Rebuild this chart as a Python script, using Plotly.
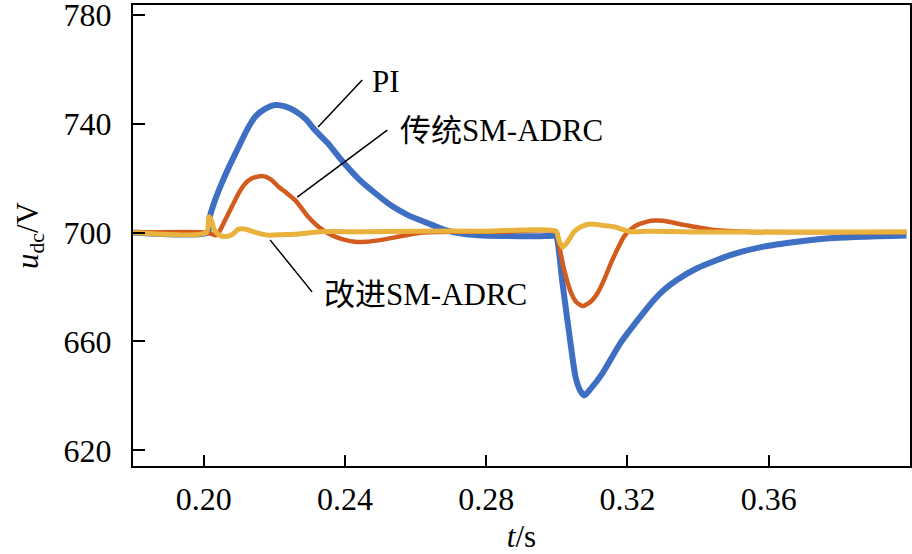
import plotly.graph_objects as go

# ---- data ----
t_pi = [0.18, 0.2012, 0.2016, 0.2030, 0.2051, 0.2075, 0.2099, 0.2122, 0.2146, 0.2175,
        0.2202, 0.2230, 0.2260, 0.2290, 0.2315, 0.2350, 0.2390, 0.2440, 0.2485, 0.2530,
        0.2580, 0.2635, 0.2682, 0.2730, 0.2777, 0.2850, 0.2950, 0.2998, 0.3002, 0.3016,
        0.3035, 0.3053, 0.3066, 0.3078, 0.3095, 0.3130, 0.3180, 0.3230, 0.3275, 0.3303,
        0.3340, 0.3397, 0.3491, 0.3585, 0.3680, 0.3773, 0.3990]
v_pi = [700.0, 700.0, 705.0, 711.0, 718.0, 725.0, 731.4, 737.5, 742.5, 745.5,
        746.8, 746.3, 744.5, 741.5, 737.6, 733.0, 726.6, 719.5, 714.5, 710.0,
        706.3, 703.4, 701.0, 699.6, 699.0, 698.7, 698.6, 698.6, 697.0, 681.5,
        663.0, 647.0, 642.0, 640.2, 642.5, 648.5, 659.4, 668.0, 675.2, 678.9,
        682.6, 686.9, 691.7, 694.8, 696.6, 697.9, 698.9]

t_sm = [0.18, 0.2010, 0.2033, 0.2045, 0.2061, 0.2080, 0.2099, 0.2118, 0.2137, 0.2165,
        0.2190, 0.2212, 0.2235, 0.2259, 0.2278, 0.2296, 0.2325, 0.2350, 0.2372, 0.2400,
        0.2428, 0.2460, 0.2500, 0.2541, 0.2580, 0.2620, 0.2700, 0.2850, 0.2998, 0.3007,
        0.3021, 0.3039, 0.3055, 0.3073, 0.3095, 0.3115, 0.3135, 0.3153, 0.3172, 0.3190,
        0.3210, 0.3228, 0.3266, 0.3300, 0.3360, 0.3445, 0.3550, 0.3990]
v_sm = [700.0, 700.0, 699.0, 700.5, 704.6, 709.5, 714.4, 718.0, 719.9, 720.7,
        719.5, 716.8, 714.5, 711.9, 708.8, 705.8, 702.1, 699.9, 698.5, 697.3,
        696.6, 696.6, 697.2, 698.2, 699.2, 700.0, 700.3, 700.3, 700.3, 694.8,
        686.2, 678.3, 674.5, 673.0, 674.5, 677.7, 683.0, 688.7, 694.0, 698.5,
        701.2, 702.8, 704.3, 704.3, 702.8, 700.9, 700.2, 700.2]

t_imp = [0.18, 0.2008, 0.2015, 0.2022, 0.2030, 0.2045, 0.2061, 0.2080, 0.2099, 0.2120,
         0.2140, 0.2165, 0.2184, 0.2220, 0.2260, 0.2330, 0.2450, 0.2600, 0.2800, 0.2998,
         0.3005, 0.3016, 0.3030, 0.3049, 0.3070, 0.3096, 0.3130, 0.3162, 0.3208, 0.3260,
         0.3400, 0.3990]
v_imp = [700.0, 700.0, 705.8, 704.5, 701.0, 699.0, 698.5, 699.2, 701.2, 701.2,
         700.3, 699.4, 699.0, 699.2, 699.4, 700.3, 700.3, 700.5, 700.5, 700.5,
         697.5, 694.6, 696.5, 700.3, 702.2, 703.1, 702.6, 702.1, 700.3, 700.5,
         700.2, 700.2]

x_ticks = [0.20, 0.24, 0.28, 0.32, 0.36]
y_ticks = [620, 660, 700, 740, 780]

names = ["PI", "传统SM-ADRC", "改进SM-ADRC"]
colors = ["#3F6FC2", "#D45B1E", "#E9B23C"]

FONT = "Liberation Serif, Noto Sans CJK SC, serif"

fig = go.Figure()
for t, v, n, c, w in [(t_pi, v_pi, names[0], colors[0], 6),
                      (t_sm, v_sm, names[1], colors[1], 4.5),
                      (t_imp, v_imp, names[2], colors[2], 5)]:
    fig.add_trace(go.Scatter(x=t, y=v, mode="lines", name=n,
                             line=dict(color=c, width=w, shape="spline", smoothing=0.6)))

# leader lines and labels
leaders = [((0.2324, 738.7), (0.2449, 756.0), (0.2471, 755.4), names[0]),
           ((0.2265, 713.0), (0.2520, 737.6), (0.2551, 737.6), names[1]),
           ((0.2188, 697.3), (0.2307, 678.2), (0.2335, 677.1), names[2])]
for (x0, y0), (x1, y1), (tx, ty), txt in leaders:
    fig.add_shape(type="line", x0=x0, y0=y0, x1=x1, y1=y1, xref="x", yref="y",
                  line=dict(color="black", width=1.5))
    fig.add_annotation(x=tx, y=ty, xref="x", yref="y", text=txt, showarrow=False,
                       xanchor="left", yanchor="middle",
                       font=dict(family=FONT, size=31, color="black"))

axis_common = dict(showgrid=False, zeroline=False, showline=True, linecolor="black",
                   linewidth=2, mirror=True, ticks="inside", tickcolor="black",
                   tickwidth=1.5, ticklabeloverflow="allow", automargin=False,
                   tickfont=dict(family=FONT, size=32, color="black"))

fig.update_xaxes(range=[0.18, 0.40], tickvals=x_ticks,
                 ticktext=[f"{v:.2f}" for v in x_ticks], ticklen=11,
                 ticklabelstandoff=4,
                 title=dict(text="<i>t</i>/s", font=dict(family=FONT, size=31, color="black"),
                            standoff=16),
                 **axis_common)
fig.update_yaxes(range=[614.3, 783.5], tickvals=y_ticks, ticklen=12,
                 ticklabelstandoff=13,
                 title=dict(text="<i>u</i><sub>dc</sub>/V",
                            font=dict(family=FONT, size=31, color="black"), standoff=16),
                 **axis_common)

fig.update_layout(width=912, height=554, margin=dict(l=133, r=2, t=5, b=88),
                  paper_bgcolor="white", plot_bgcolor="white", showlegend=False)

fig.write_html("out.html", config={"displayModeBar": False})

# remove default page margin so the figure sits at the window's top-left corner
with open("out.html", encoding="utf-8") as f:
    html = f.read()
html = html.replace("<head>", "<head><style>html,body{margin:0;padding:0;overflow:hidden}</style>", 1)
with open("out.html", "w", encoding="utf-8") as f:
    f.write(html)
